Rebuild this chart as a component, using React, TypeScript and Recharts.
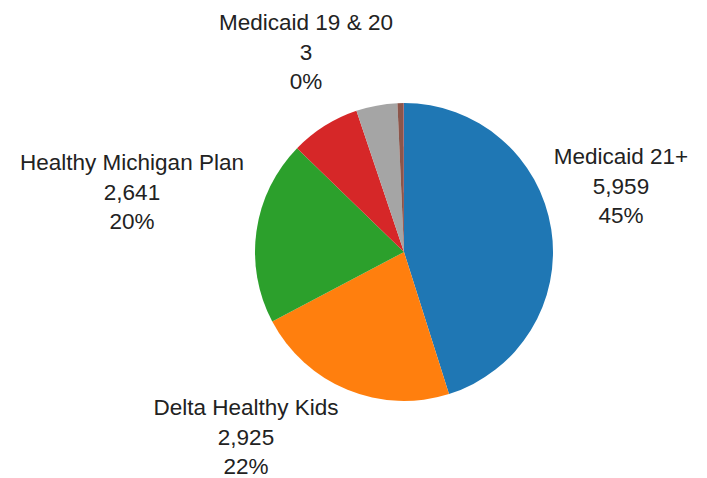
import { PieChart, Pie, Cell } from 'recharts';

// ---------- Data ----------
const NAMES = [
  'Medicaid 21+',
  'Delta Healthy Kids',
  'Healthy Michigan Plan',
  'MIChild',
  'Other',
  'CSHCS',
  'Medicaid 19 & 20',
];
const VALUES = [5959, 2925, 2641, 1000, 590, 90, 3];
const COLORS = ['#1f77b4', '#ff7f0e', '#2ca02c', '#d62728', '#a5a5a5', '#8c564b', '#e377c2'];

// which slices get a text label, and where (center x, first baseline y)
const LABEL_POS: Record<string, { x: number; y: number }> = {
  'Medicaid 21+': { x: 621, y: 164 },
  'Delta Healthy Kids': { x: 246, y: 415 },
  'Healthy Michigan Plan': { x: 132, y: 170 },
  'Medicaid 19 & 20': { x: 306, y: 30 },
};

const data = NAMES.map((name, i) => ({ name, value: VALUES[i] }));
const TOTAL = VALUES.reduce((a, b) => a + b, 0);

const renderLabel = (props: any) => {
  const pos = LABEL_POS[props.name];
  if (!pos) return <g />;
  const pct = Math.round((props.value / TOTAL) * 100);
  const lines = [props.name, props.value.toLocaleString('en-US'), `${pct}%`];
  return (
    <text
      x={pos.x}
      y={pos.y}
      textAnchor="middle"
      fill="#222"
      fontSize={22.5}
      fontFamily="'Liberation Sans', Arial, sans-serif"
    >
      {lines.map((t, i) => (
        <tspan key={i} x={pos.x} dy={i === 0 ? 0 : 29.5}>
          {t}
        </tspan>
      ))}
    </text>
  );
};

export default function App() {
  return (
    <div style={{ position: 'fixed', left: 0, top: 0, background: '#fff' }}>
      <PieChart width={707} height={478} margin={{ top: 0, right: 0, bottom: 0, left: 0 }}>
        <Pie
          data={data}
          dataKey="value"
          nameKey="name"
          cx={404}
          cy={252}
          outerRadius={149}
          startAngle={90}
          endAngle={-270}
          stroke="none"
          label={renderLabel}
          labelLine={false}
          isAnimationActive={false}
        >
          {data.map((_, i) => (
            <Cell key={`cell-${i}`} fill={COLORS[i]} />
          ))}
        </Pie>
      </PieChart>
    </div>
  );
}
